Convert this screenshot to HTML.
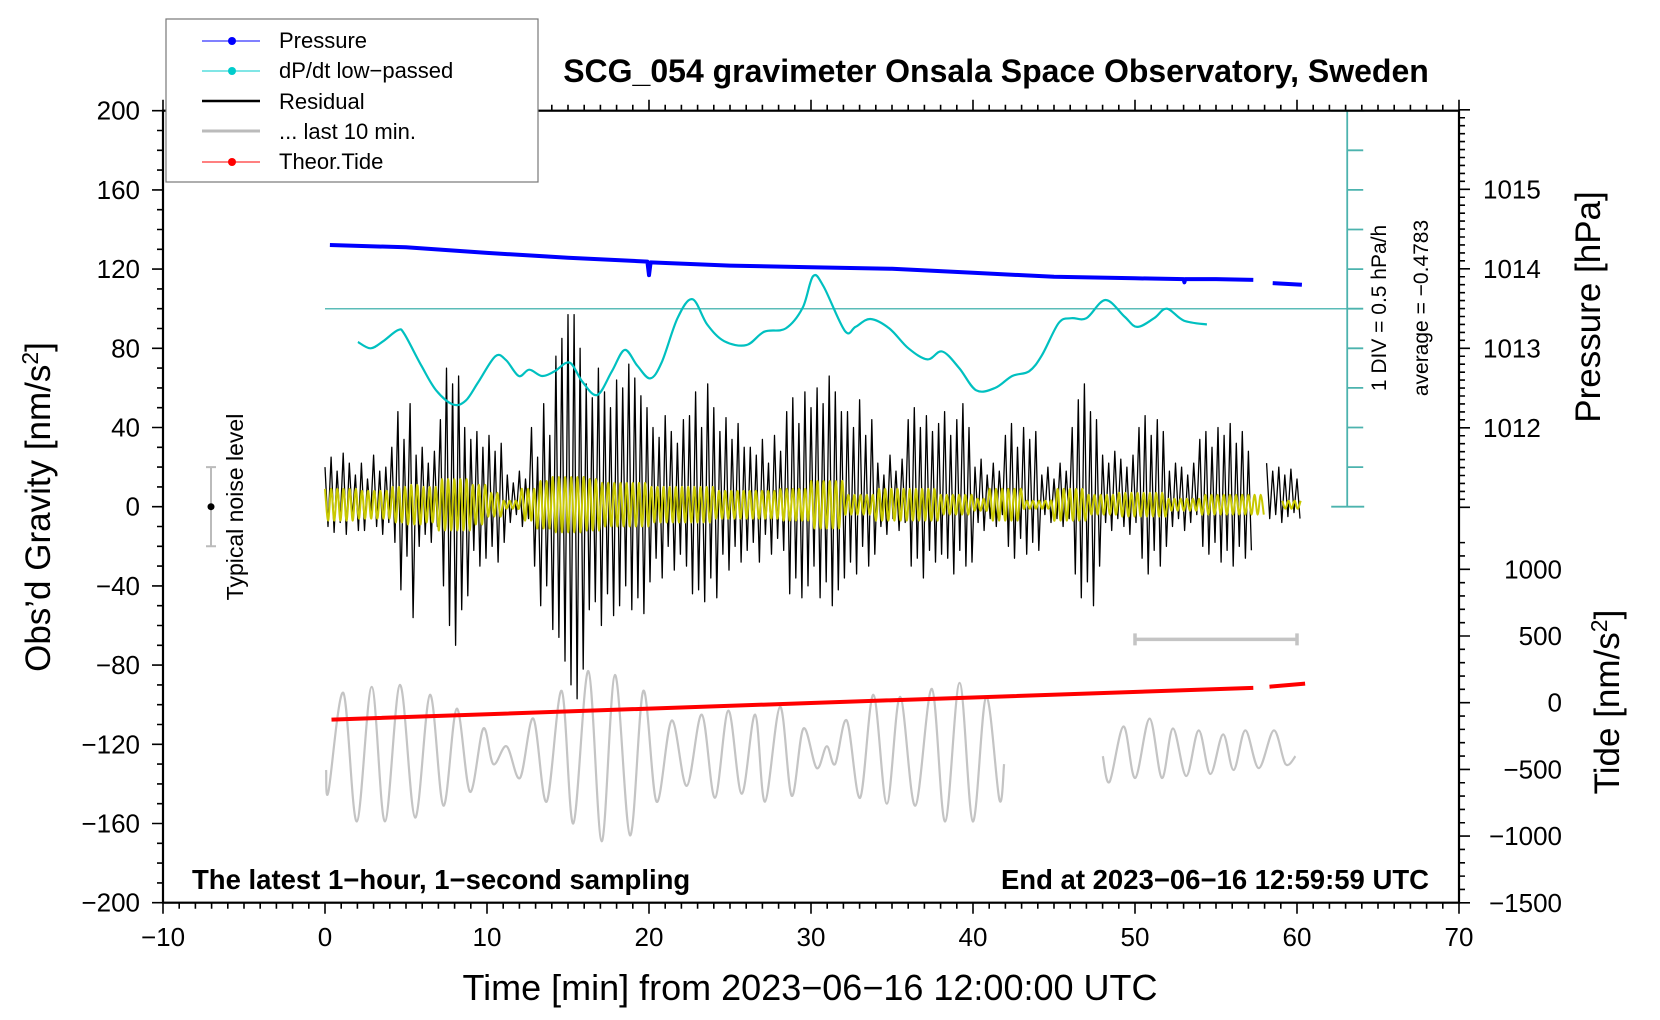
<!DOCTYPE html>
<html><head><meta charset="utf-8">
<style>
html,body{margin:0;padding:0;background:#fff;}
svg{display:block;font-family:"Liberation Sans",Arial,sans-serif;}
</style></head>
<body>
<svg id="chart" width="1660" height="1020" viewBox="0 0 1660 1020" xmlns="http://www.w3.org/2000/svg">
<rect x="0" y="0" width="1660" height="1020" fill="#fff"/>
<g id="marks"></g>
<g id="axes"></g>
<text x="996" y="82" font-size="32" font-weight="bold" text-anchor="middle">SCG_054 gravimeter Onsala Space Observatory, Sweden</text>
<text x="192" y="889" font-size="27.5" font-weight="bold">The latest 1−hour, 1−second sampling</text>
<text x="1429" y="889" font-size="27.5" font-weight="bold" text-anchor="end">End at 2023−06−16 12:59:59 UTC</text>
<text x="810" y="1000" font-size="36" text-anchor="middle">Time [min] from 2023−06−16 12:00:00 UTC</text>
<text transform="translate(50,507) rotate(-90)" font-size="35" text-anchor="middle">Obs’d Gravity [nm/s<tspan dy="-12" font-size="23">2</tspan><tspan dy="12">]</tspan></text>
<text transform="translate(1600,307) rotate(-90)" font-size="35" text-anchor="middle">Pressure [hPa]</text>
<text transform="translate(1619,702) rotate(-90)" font-size="35" text-anchor="middle">Tide [nm/s<tspan dy="-12" font-size="23">2</tspan><tspan dy="12">]</tspan></text>
<text transform="translate(1386,308) rotate(-90)" font-size="21" text-anchor="middle">1 DIV = 0.5 hPa/h</text>
<text transform="translate(1428,308) rotate(-90)" font-size="21" text-anchor="middle">average = −0.4783</text>
<text transform="translate(243,507) rotate(-90)" font-size="23" text-anchor="middle">Typical noise level</text>
<g>
<rect x="166" y="19" width="372" height="163" fill="#fff" stroke="#777" stroke-width="1.2"/>
<g><line x1="202" y1="41" x2="260" y2="41" stroke="#00f" stroke-width="1"/><circle cx="232" cy="41" r="4" fill="#00f"/><text x="279" y="48" font-size="22">Pressure</text></g>
<g><line x1="202" y1="71" x2="260" y2="71" stroke="#0cc" stroke-width="1"/><circle cx="232" cy="71" r="4" fill="#0cc"/><text x="279" y="78" font-size="22">dP/dt low−passed</text></g>
<g><line x1="202" y1="101" x2="260" y2="101" stroke="#000" stroke-width="2.5"/><text x="279" y="109" font-size="22">Residual</text></g>
<g><line x1="202" y1="131" x2="260" y2="131" stroke="#bbb" stroke-width="3"/><text x="279" y="139" font-size="22">... last 10 min.</text></g>
<g><line x1="202" y1="162" x2="260" y2="162" stroke="#f00" stroke-width="1"/><circle cx="232" cy="162" r="4" fill="#f00"/><text x="279" y="169" font-size="22">Theor.Tide</text></g>
</g>
</svg>
<script>
// ---- data ----
const xTicks=[-10,0,10,20,30,40,50,60,70];
const yTicks=[-200,-160,-120,-80,-40,0,40,80,120,160,200];
const pTicks=[1012,1013,1014,1015];
const tideTicks=[-1500,-1000,-500,0,500,1000];
const pressTime=[0.3,5,10,15,19.9,20,20.1,25,30,35,40,45,50,53,53.05,53.1,55,57.3,null,58.5,60.3];
const pressVal=[1014.30,1014.27,1014.20,1014.14,1014.09,1013.92,1014.08,1014.04,1014.02,1014.0,1013.95,1013.90,1013.88,1013.87,1013.83,1013.87,1013.87,1013.86,null,1013.82,1013.80];
const dpdtTime=[2.03,2.81,3.59,4.51,4.9,5.95,6.86,7.91,8.69,9.48,10.52,11.18,11.96,12.61,13.4,14.18,15.1,15.88,16.8,17.71,18.5,19.28,20.07,20.78,21.76,22.68,23.59,24.64,26.01,27.12,28.43,29.48,30.13,30.78,32.09,32.75,33.66,34.84,36.01,37.19,38.1,39.15,40.2,41.37,42.42,43.46,44.25,45.29,46.08,47.0,48.17,49.35,50.13,51.18,51.96,53.01,54.44];
const dpdtDev=[-0.42,-0.50,-0.41,-0.27,-0.32,-0.72,-1.03,-1.21,-1.16,-0.92,-0.60,-0.65,-0.85,-0.77,-0.85,-0.79,-0.68,-0.92,-1.09,-0.79,-0.52,-0.72,-0.88,-0.68,-0.12,0.12,-0.20,-0.41,-0.46,-0.29,-0.25,0.01,0.41,0.28,-0.28,-0.23,-0.13,-0.25,-0.50,-0.64,-0.54,-0.75,-1.03,-1.00,-0.85,-0.79,-0.59,-0.18,-0.12,-0.12,0.11,-0.10,-0.23,-0.12,0.0,-0.15,-0.20];
const dpdtAverage=-0.4783;
const resHi=[20,25,18,27,22,16, 22,14,26,18,20, 30,48,34,52,26, 30,22,28, 44,70,62,66,40, 34,38,30,36,28,32, 16,12,18,14, 40,25,52,36, 76,85,97,97,80, 62,55,70,58,50,64, 60,72,65,56,50, 40,35,46,38,32,44, 46,58,40,62,50, 38,45,34,42,30, 30,26,34,22,36,28, 48,55,42,58,50, 60,52,66,58,48, 48,40,54,36,44, 22,16,26,18,24, 44,50,40,46,38,42, 48,36,44,52,40, 20,24,16,22,18, 36,42,30,40,34,38, 16,20,14,22,18, 40,54,62,48,44, 26,22,28,24,20,26, 40,46,36,44,38, 18,22,20,16,22, 34,38,30,40,36,42,32,38,28, null,null, 22,18,20,16,19,14];
const resLo=[-10,-13,-8,-14,-6,-12, -12,-5,-10,-14,-8, -18,-42,-25,-56,-20, -14,-18,-10, -40,-60,-70,-52,-45, -22,-30,-26,-20,-28,-18, -8,-4,-10,-6, -30,-50,-40,-62, -66,-78,-90,-97,-82, -52,-48,-60,-44,-55,-50, -40,-52,-46,-54,-38, -26,-36,-20,-32,-24,-30, -44,-42,-48,-36,-46, -24,-32,-20,-28,-22, -18,-28,-14,-24,-16,-22, -44,-36,-46,-40,-30, -46,-38,-50,-42,-36, -28,-34,-20,-30,-24, -10,-14,-6,-12,-8, -30,-26,-36,-22,-28,-24, -26,-34,-22,-30,-28, -8,-12,-6,-10,-4, -20,-26,-16,-24,-18,-22, -4,-8,-6,-10,-6, -34,-46,-38,-50,-30, -8,-12,-6,-10,-14,-8, -26,-34,-22,-30,-20, -10,-6,-12,-8,-4, -20,-24,-18,-28,-22,-30,-20,-26,-22, null,null, -6,-4,-8,-5,-3,-6];
const resPeriod=0.375;
const yellowAmp=[8,8,7,7,9,10,9,13,13,10,6,2,8,12,14,14,13,11,11,11,9,9,9,9,7,7,7,7,8,8,12,12,5,5,8,8,8,8,5,5,3,8,8,2,2,8,8,5,5,6,6,6,3,3,5,5,5,5,null,2,2];
const yellowCenter=1;
const grayTime=[0.07,0.21,1.13,1.96,2.88,3.70,4.63,5.56,6.48,7.31,8.13,8.95,9.77,10.39,11.21,12.04,12.86,13.68,14.61,15.33,16.26,17.08,17.90,18.83,19.65,20.47,21.40,22.33,23.26,24.07,24.90,25.72,26.55,27.16,28.09,28.81,29.53,30.35,30.97,31.49,32.21,33.03,33.85,34.68,35.50,36.43,37.46,38.28,39.17,39.99,40.81,41.63,41.92,null,48.01,48.43,49.29,50.01,50.90,51.66,52.34,53.16,53.93,54.65,55.43,56.09,56.81,57.64,58.57,59.29,59.91];
const grayVal=[-133,-144,-94,-159,-91,-159,-90,-157,-95,-151,-102,-144,-112,-130,-121,-137,-107,-149,-93,-160,-83,-169,-85,-166,-93,-149,-108,-141,-105,-147,-103,-145,-105,-149,-101,-146,-112,-132,-121,-130,-108,-147,-95,-150,-96,-151,-92,-159,-89,-159,-96,-148,-130,null,-126,-139,-111,-137,-107,-137,-112,-136,-113,-135,-115,-133,-113,-132,-113,-130,-126];
const tideTime=[0.4,30,57.3,null,58.3,60.5];
const tideVal=[-127,-2,111,null,120,143];

// ---- scales ----
const X0=163,X1=1459,YT=110.7,YB=902.7;
const xs=m=>X0+(m+10)*(X1-X0)/80;
const ys=v=>506.7-v*(YB-YT)/400;
const yp=h=>189.3+(1015-h)*79.5;
const yt=t=>702.7-t*(66.7/500);
const ydp=d=>ys(100+(d)/0.5*20);
const NS="http://www.w3.org/2000/svg";
const marks=document.getElementById('marks'), axes=document.getElementById('axes');
function el(tag,attrs,parent){const e=document.createElementNS(NS,tag);for(const k in attrs)e.setAttribute(k,attrs[k]);parent.appendChild(e);return e;}
function segments(ts,vs,fx,fy){const segs=[];let cur=[];for(let i=0;i<ts.length;i++){if(ts[i]===null||vs[i]===null){if(cur.length)segs.push(cur);cur=[];continue;}cur.push([fx(ts[i]),fy(vs[i])]);}if(cur.length)segs.push(cur);return segs;}
function pathFrom(ts,vs,fx,fy){return segments(ts,vs,fx,fy).map(s=>s.map((p,i)=>(i?'L':'M')+p[0].toFixed(1)+' '+p[1].toFixed(1)).join('')).join('');}
function smoothFrom(ts,vs,fx,fy){return segments(ts,vs,fx,fy).map(s=>{let d='M'+s[0][0].toFixed(1)+' '+s[0][1].toFixed(1);for(let i=0;i<s.length-1;i++){const p0=s[Math.max(0,i-1)],p1=s[i],p2=s[i+1],p3=s[Math.min(s.length-1,i+2)];const c1=[p1[0]+(p2[0]-p0[0])/6,p1[1]+(p2[1]-p0[1])/6],c2=[p2[0]-(p3[0]-p1[0])/6,p2[1]-(p3[1]-p1[1])/6];d+=`C${c1[0].toFixed(1)} ${c1[1].toFixed(1)} ${c2[0].toFixed(1)} ${c2[1].toFixed(1)} ${p2[0].toFixed(1)} ${p2[1].toFixed(1)}`;}return d;}).join('');}

// gray last-10-min curve
let gp=el('path',{d:smoothFrom(grayTime,grayVal,xs,ys),fill:'none',stroke:'#c4c4c4','stroke-width':2.2,'stroke-linejoin':'round'},marks);


// scale bar
let sb=el('path',{d:`M${xs(50)} ${ys(-67)}H${xs(60)}M${xs(50)} ${ys(-67)-6}v12M${xs(60)} ${ys(-67)-6}v12`,stroke:'#c4c4c4','stroke-width':3.5,fill:'none'},marks);



// residual
{let rt=[],rv=[];for(let i=0;i<resHi.length;i++){if(resHi[i]===null){rt.push(null);rv.push(null);continue;}rt.push(i*resPeriod);rv.push(resHi[i]);rt.push(i*resPeriod+resPeriod/2);rv.push(resLo[i]);}
let rp=el('path',{d:pathFrom(rt,rv,xs,ys),fill:'none',stroke:'#000','stroke-width':1.3,'stroke-linejoin':'round'},marks);

}
// yellow
{let t=[],v=[];const step=0.19;let s=1;for(let q=0;q<=60.3;q+=step){const a=yellowAmp[Math.min(60,Math.floor(q))];if(a===null){t.push(null);v.push(null);continue;}t.push(q);v.push(yellowCenter+s*a);s=-s;}
let yl=el('path',{d:smoothFrom(t,v,xs,ys),fill:'none',stroke:'#c8c800','stroke-width':2,'stroke-linejoin':'round'},marks);

}

// dp/dt
let avl=el('line',{x1:xs(0),x2:xs(64),y1:ydp(0),y2:ydp(0),stroke:'#5bbcb8','stroke-width':1.5},marks);


let dp=el('path',{d:smoothFrom(dpdtTime,dpdtDev,xs,ydp),fill:'none',stroke:'#00c0c0','stroke-width':2.2,'stroke-linejoin':'round'},marks);


// pressure
let pl=el('path',{d:pathFrom(pressTime,pressVal,xs,yp),fill:'none',stroke:'#0000ff','stroke-width':4,'stroke-linejoin':'round'},marks);


// tide
let tl=el('path',{d:pathFrom(tideTime,tideVal,xs,yt),fill:'none',stroke:'#ff0000','stroke-width':4},marks);



// noise level bar
let nb=el('path',{d:`M211 ${ys(20)}V${ys(-20)}M206 ${ys(20)}h10M206 ${ys(-20)}h10`,stroke:'#bbb','stroke-width':2,fill:'none'},marks);


el('circle',{cx:211,cy:ys(0),r:3.5,fill:'#000'},marks);

// dp/dt axis
{const ax=xs(63.1);let d=`M${ax} ${ys(200)}V${ys(0)}M${ax-16} ${ys(200)}h33M${ax-16} ${ys(0)}h33`;for(let k=1;k<10;k++)d+=`M${ax} ${ys(k*20)}h16`;
let da=el('path',{d:d,stroke:'#4cb3ae','stroke-width':1.8,fill:'none'},axes);

}

// frame
let fr=el('rect',{x:X0,y:YT,width:X1-X0,height:YB-YT,fill:'none',stroke:'#000','stroke-width':2.2},axes);


{let d='';for(let m=-10;m<=70;m++){const L=(m%10===0)?11:6;d+=`M${xs(m)} ${YB}v${L}M${xs(m)} ${YT}v${-L}`;}
for(let v=-200;v<=200;v+=10){const L=(v%40===0)?11:6;d+=`M${X0} ${ys(v)}h${-L}`;}
for(let h=1011;h<=1016.2;h+=0.1){const y=yp(h);if(y<YT-1||y>530)continue;const L=(Math.abs(h-Math.round(h))<0.01)?11:6;d+=`M${X1} ${y}h${L}`;}
for(let t=-1500;t<=1200;t+=100){const y=yt(t);if(y<540)continue;const L=(t%500===0)?11:6;d+=`M${X1} ${y}h${L}`;}
el('path',{d:d,stroke:'#000','stroke-width':1.6,fill:'none'},axes);}
xTicks.forEach(m=>{let t=el('text',{x:xs(m),y:946,'font-size':26,'text-anchor':'middle'},axes);t.textContent=String(m).replace('-','−');

});
yTicks.forEach(v=>{let t=el('text',{x:140,y:ys(v)+9,'font-size':26,'text-anchor':'end'},axes);t.textContent=String(v).replace('-','−');

});
pTicks.forEach(h=>{let t=el('text',{x:1483,y:yp(h)+9,'font-size':26},axes);t.textContent=String(h);

});
tideTicks.forEach(v=>{let t=el('text',{x:1562,y:yt(v)+9,'font-size':26,'text-anchor':'end'},axes);t.textContent=String(v).replace('-','−');

});
</script>
</body></html>
